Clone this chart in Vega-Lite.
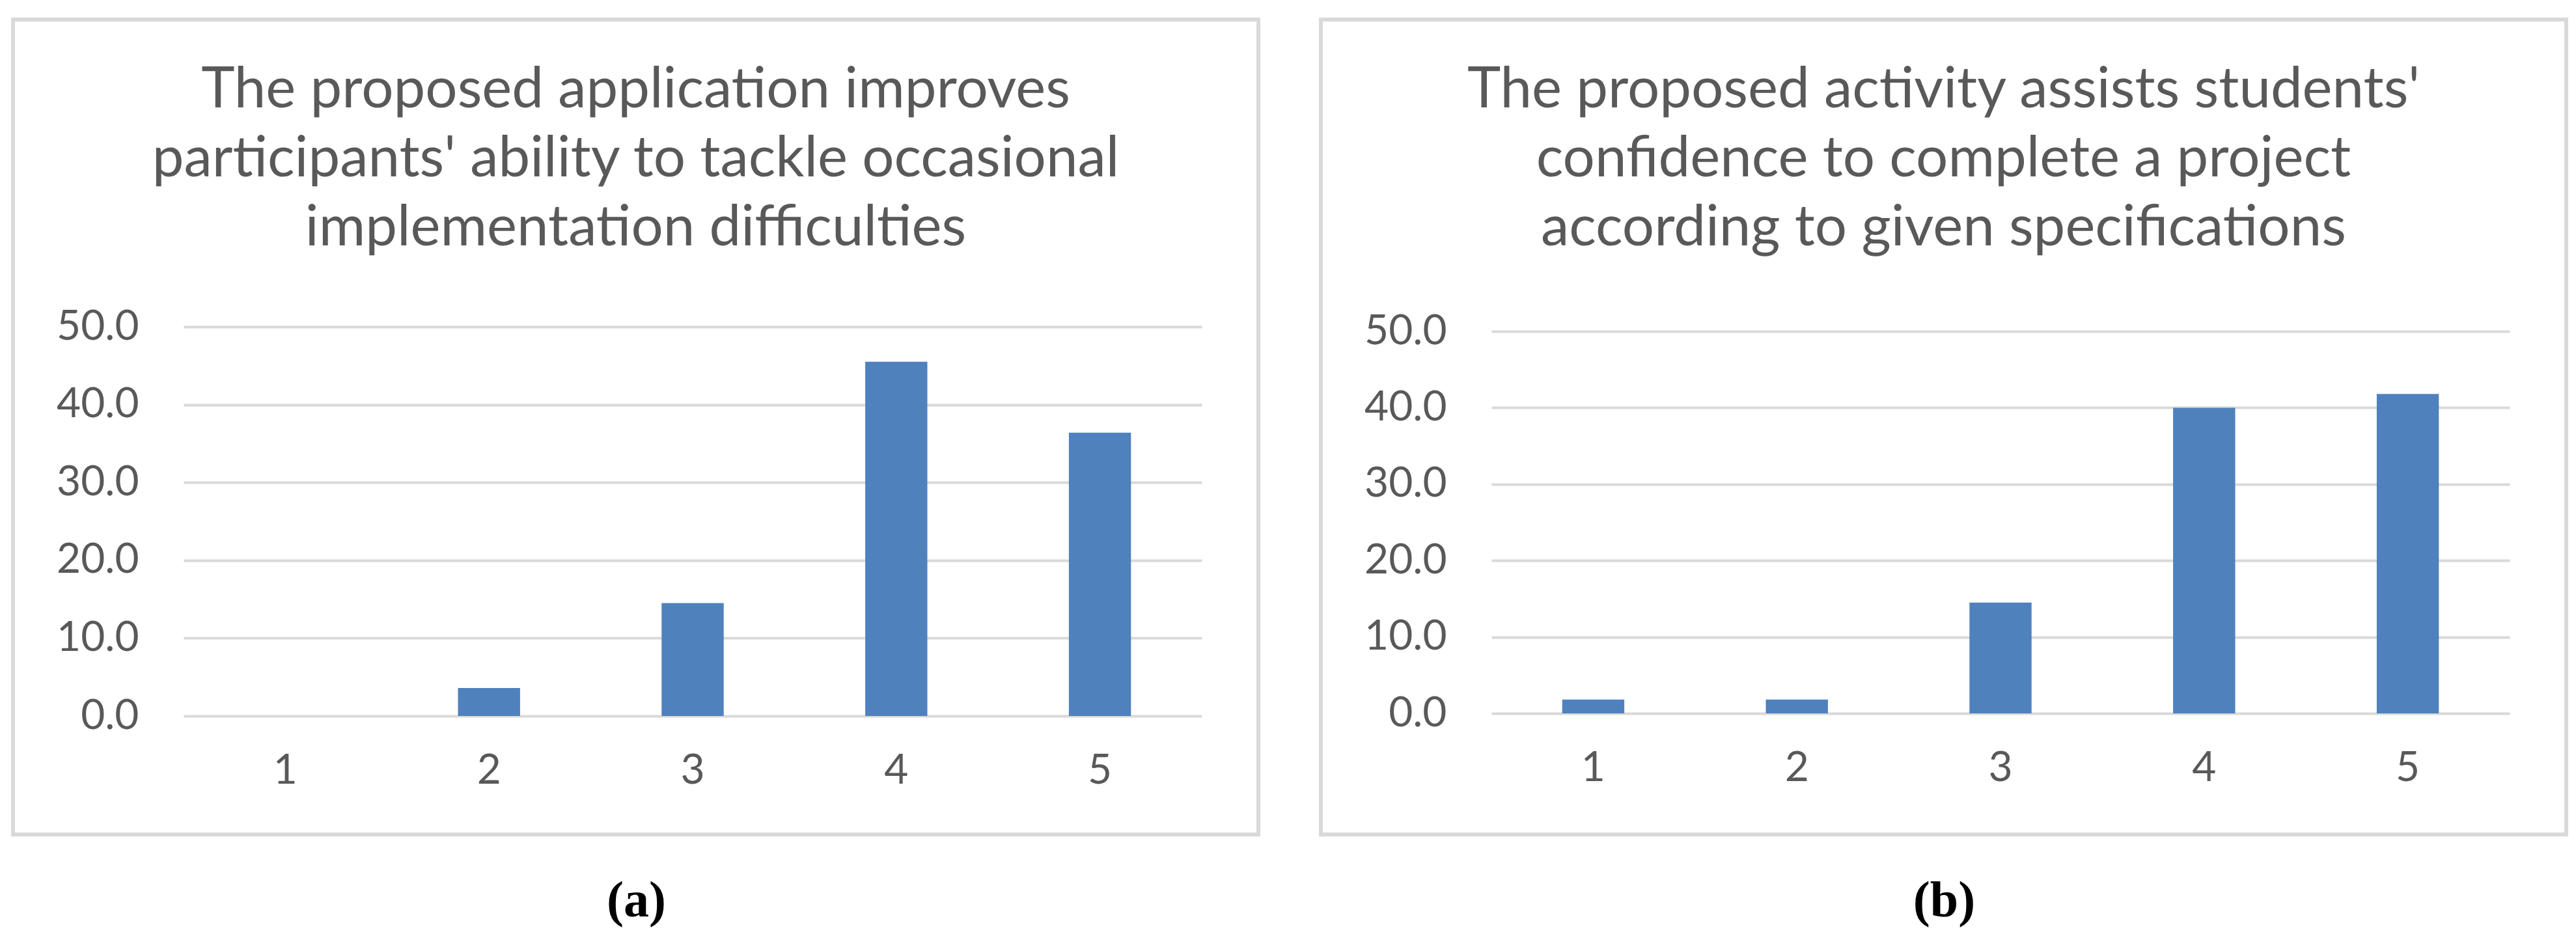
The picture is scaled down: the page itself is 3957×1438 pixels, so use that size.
{
  "$schema": "https://vega.github.io/schema/vega-lite/v6.json",
  "background": "white",
  "padding": {"left": 17, "top": 27, "right": 0, "bottom": 0},
  "datasets": {
    "a": [
      {"rating": 1, "pct": 0.0},
      {"rating": 2, "pct": 3.6},
      {"rating": 3, "pct": 14.5},
      {"rating": 4, "pct": 45.5},
      {"rating": 5, "pct": 36.4}
    ],
    "b": [
      {"rating": 1, "pct": 1.8},
      {"rating": 2, "pct": 1.8},
      {"rating": 3, "pct": 14.5},
      {"rating": 4, "pct": 40.0},
      {"rating": 5, "pct": 41.8}
    ]
  },
  "config": {
    "view": {"stroke": "#d9d9d9", "strokeWidth": 6},
    "font": "Lato",
    "axis": {
      "domain": false,
      "ticks": false,
      "labelFont": "Lato",
      "labelFontSize": 64,
      "labelColor": "#595959",
      "gridColor": "#d9d9d9",
      "gridWidth": 4
    },
    "title": {
      "font": "Lato",
      "fontSize": 87,
      "fontWeight": "normal",
      "color": "#595959",
      "lineHeight": 106,
      "anchor": "middle",
      "offset": 0,
      "baseline": "top",
      "dy": 369
    }
  },
  "spacing": 90,
  "hconcat": [
    {
      "width": 1913,
      "height": 1252,
      "data": {"name": "a"},
      "title": {"text": ["The proposed application improves", "participants' ability to tackle occasional", "implementation difficulties"]},
      "mark": {"type": "bar", "color": "#4f81bd"},
      "encoding": {
        "x": {
          "field": "rating", "type": "ordinal",
          "scale": {"range": [262, 1826], "paddingInner": 0.695, "paddingOuter": 0.3475},
          "axis": {"orient": "bottom", "offset": -182, "labelAngle": 0, "labelPadding": 52, "grid": false,
                   "title": "(a)", "titleX": 957, "titleY": 284, "titleBaseline": "middle", "titleAlign": "center",
                   "titleFont": "Liberation Serif", "titleFontSize": 78, "titleFontWeight": "bold", "titleColor": "#000000"}
        },
        "y": {
          "field": "pct", "type": "quantitative",
          "scale": {"domain": [0, 50], "range": [1070, 472], "nice": false},
          "axis": {"offset": -262, "values": [0, 10, 20, 30, 40, 50], "format": ".1f", "labelPadding": 69, "title": null, "grid": true}
        }
      }
    },
    {
      "width": 1913,
      "height": 1252,
      "data": {"name": "b"},
      "title": {"text": ["The proposed activity assists students'", "confidence to complete a project", "according to given specifications"]},
      "mark": {"type": "bar", "color": "#4f81bd"},
      "encoding": {
        "x": {
          "field": "rating", "type": "ordinal",
          "scale": {"range": [262, 1826], "paddingInner": 0.695, "paddingOuter": 0.3475},
          "axis": {"orient": "bottom", "offset": -186, "labelAngle": 0, "labelPadding": 52, "grid": false,
                   "title": "(b)", "titleX": 957, "titleY": 288, "titleBaseline": "middle", "titleAlign": "center",
                   "titleFont": "Liberation Serif", "titleFontSize": 78, "titleFontWeight": "bold", "titleColor": "#000000"}
        },
        "y": {
          "field": "pct", "type": "quantitative",
          "scale": {"domain": [0, 50], "range": [1066, 479], "nice": false},
          "axis": {"offset": -262, "values": [0, 10, 20, 30, 40, 50], "format": ".1f", "labelPadding": 69, "title": null, "grid": true}
        }
      }
    }
  ]
}
